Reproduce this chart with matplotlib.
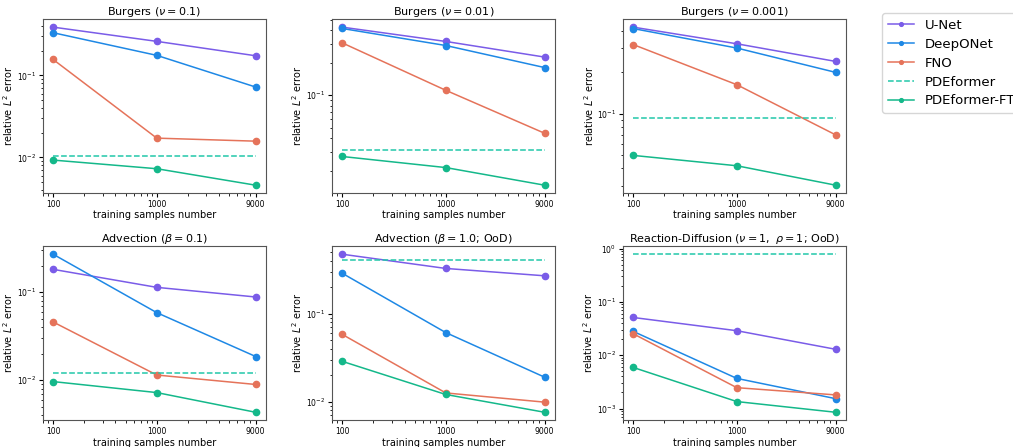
import matplotlib
matplotlib.use("Agg")
import matplotlib.pyplot as plt
from matplotlib.ticker import NullFormatter

samples = [100, 1000, 9000]
sample_labels = ["100", "1000", "9000"]

titles = [
    r"Burgers ($\nu=0.1$)",
    r"Burgers ($\nu=0.01$)",
    r"Burgers ($\nu=0.001$)",
    r"Advection ($\beta=0.1$)",
    r"Advection ($\beta=1.0$; OoD)",
    r"Reaction-Diffusion ($\nu=1,\ \rho=1$; OoD)",
]

unet = [
    [0.386, 0.259, 0.173],
    [0.426, 0.314, 0.225],
    [0.424, 0.321, 0.239],
    [0.181, 0.113, 0.0878],
    [0.473, 0.326, 0.269],
    [0.051, 0.0288, 0.0129],
]
deeponet = [
    [0.330, 0.175, 0.072],
    [0.414, 0.288, 0.180],
    [0.414, 0.299, 0.199],
    [0.269, 0.0583, 0.0185],
    [0.288, 0.061, 0.019],
    [0.028, 0.00367, 0.00153],
]
fno = [
    [0.156, 0.0172, 0.0158],
    [0.305, 0.111, 0.0444],
    [0.317, 0.162, 0.070],
    [0.0457, 0.0114, 0.0089],
    [0.0583, 0.0126, 0.0099],
    [0.0253, 0.00246, 0.0018],
]
pdeformer = [0.0105, 0.0312, 0.093, 0.0120, 0.408, 0.784]
pdeformer_ft = [
    [0.0093, 0.0073, 0.0046],
    [0.0271, 0.0214, 0.0147],
    [0.0497, 0.0418, 0.0302],
    [0.0096, 0.0072, 0.0043],
    [0.0288, 0.0121, 0.0076],
    [0.0059, 0.00135, 0.00085],
]

colors = {
    "U-Net": "#7a5ce8",
    "DeepONet": "#1e88e5",
    "FNO": "#e5735a",
    "PDEformer": "#22c7a9",
    "PDEformer-FT": "#14b88a",
}

fig = plt.figure(figsize=(10.13, 4.47), dpi=100)
lefts = [0.0424, 0.3277, 0.615]
bottoms = [0.568, 0.060]
w, h = 0.220, 0.389

for i in range(6):
    ax = fig.add_axes([lefts[i % 3], bottoms[i // 3], w, h])
    kw = dict(marker="o", markersize=4.5, linewidth=1.1)
    ax.plot(samples, unet[i], color=colors["U-Net"], label="U-Net", **kw)
    ax.plot(samples, deeponet[i], color=colors["DeepONet"], label="DeepONet", **kw)
    ax.plot(samples, fno[i], color=colors["FNO"], label="FNO", **kw)
    ax.plot([samples[0], samples[-1]], [pdeformer[i]] * 2, color=colors["PDEformer"],
            linestyle="--", linewidth=1.1, label="PDEformer")
    ax.plot(samples, pdeformer_ft[i], color=colors["PDEformer-FT"], label="PDEformer-FT", **kw)
    ax.set_xscale("log")
    ax.set_yscale("log")
    ax.set_xticks(samples)
    ax.set_xticklabels(sample_labels)
    ax.xaxis.set_minor_formatter(NullFormatter())
    ax.yaxis.set_minor_formatter(NullFormatter())
    ax.tick_params(labelsize=5.5, length=3, pad=2)
    ax.tick_params(which="minor", length=1.8)
    ax.set_title(titles[i], fontsize=8, pad=3)
    ax.set_xlabel("training samples number", fontsize=7, labelpad=1)
    ax.set_ylabel(r"relative $L^2$ error", fontsize=7, labelpad=1)
    for s in ax.spines.values():
        s.set_color("#555555")
    if i == 0:
        handles, labels = ax.get_legend_handles_labels()

fig.legend(handles, labels, loc="upper left", bbox_to_anchor=(0.871, 0.97),
           fontsize=9.5, labelspacing=0.45, handlelength=2.0, borderaxespad=0.0,
           markerscale=0.6)

fig.savefig("out.png", dpi=100)
